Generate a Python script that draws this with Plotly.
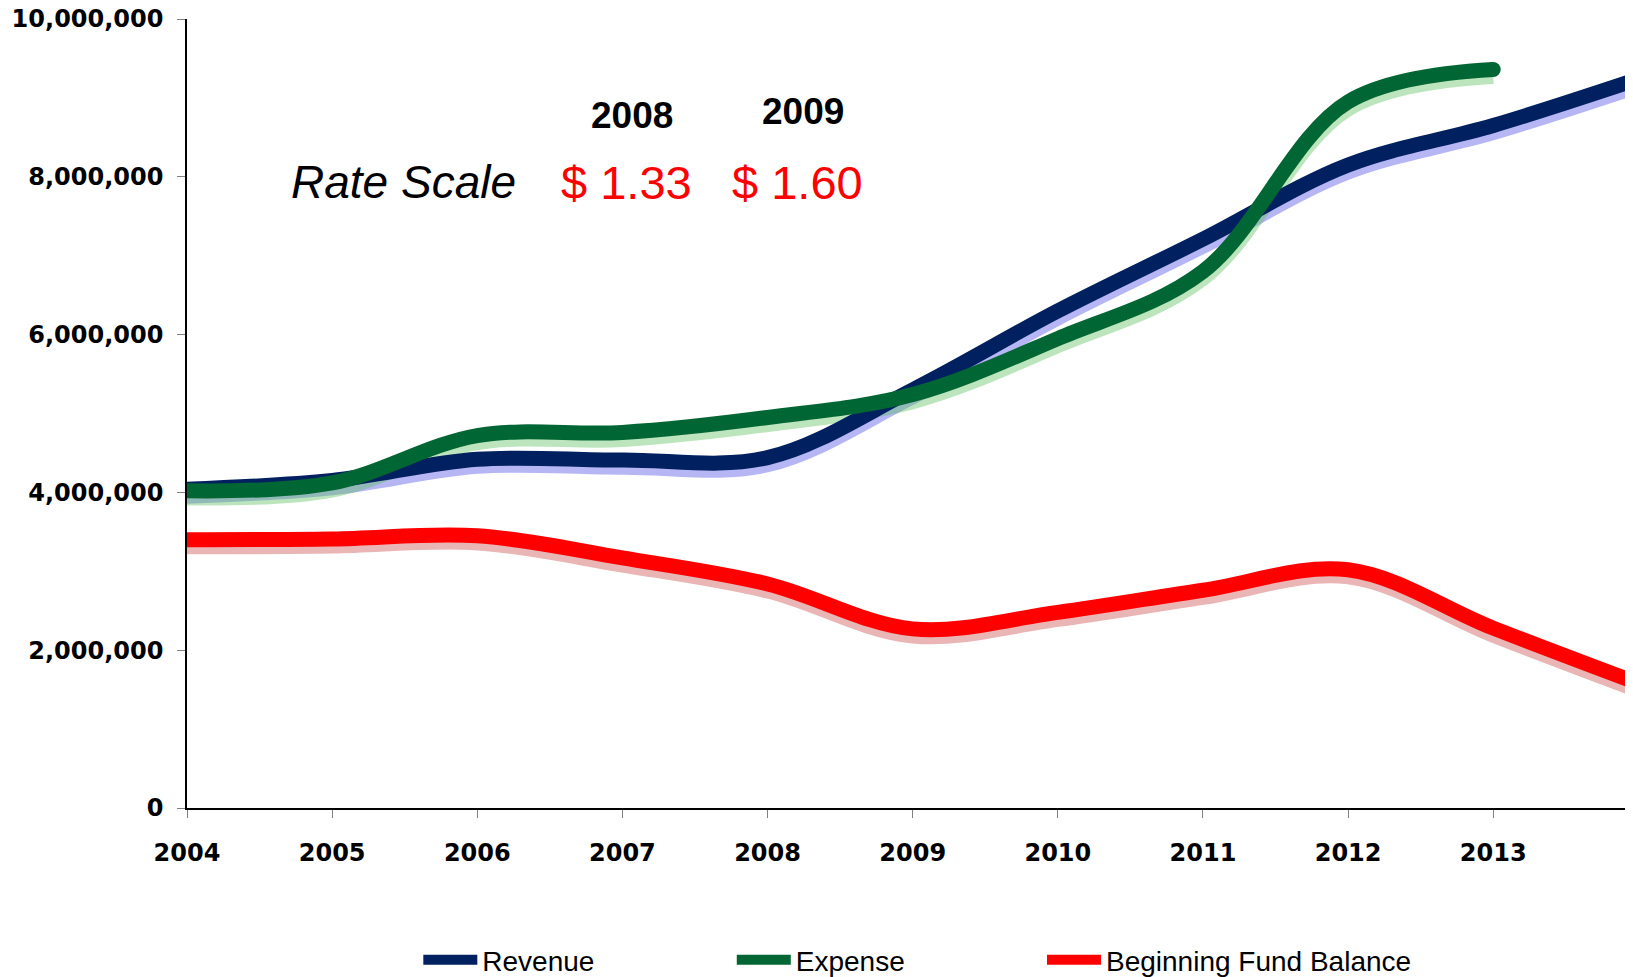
import plotly.graph_objects as go

# values
years = [2004, 2005, 2006, 2007, 2008, 2009, 2010, 2011, 2012, 2013, 2014]
revenue = [4.04e6, 4.15e6, 4.42e6, 4.41e6, 4.44e6, 5.30e6, 6.30e6, 7.21e6, 8.15e6, 8.65e6, 9.24e6]
expense = [4.02e6, 4.12e6, 4.72e6, 4.76e6, 4.95e6, 5.24e6, 5.95e6, 6.80e6, 8.95e6, 9.36e6]
fund_balance = [3.40e6, 3.41e6, 3.45e6, 3.17e6, 2.84e6, 2.27e6, 2.48e6, 2.76e6, 3.02e6, 2.28e6, 1.58e6]

y_ticks = [0, 2e6, 4e6, 6e6, 8e6, 10e6]
x_ticks = list(range(2004, 2014))

rate_years = ["2008", "2009"]
rate_values = ["$ 1.33", "$ 1.60"]

series = [
    ("Revenue", revenue, "#002060", "rgba(110, 110, 235, 0.5)", "legend"),
    ("Expense", expense, "#006633", "rgba(90, 190, 90, 0.4)", "legend2"),
    ("Beginning Fund Balance", fund_balance, "#FF0000", "rgba(200, 70, 70, 0.4)", "legend3"),
]

SHADOW_DROP = 90_000  # soft drop shadow under each line

fig = go.Figure()

# shadows first so every line sits above them
for name, vals, color, shadow, lg in series:
    fig.add_trace(go.Scatter(
        x=years[:len(vals)],
        y=[v - SHADOW_DROP for v in vals],
        mode="lines",
        line=dict(color=shadow, width=15, shape="spline", smoothing=1.0),
        showlegend=False,
        hoverinfo="skip",
    ))

for name, vals, color, shadow, lg in series:
    fig.add_trace(go.Scatter(
        x=years[:len(vals)],
        y=vals,
        mode="lines",
        name=name,
        legend=lg,
        line=dict(color=color, width=15, shape="spline", smoothing=1.0),
    ))

# rounded end of the expense line
fig.add_trace(go.Scatter(
    x=[years[len(expense) - 1]],
    y=[expense[-1]],
    mode="markers",
    marker=dict(color="#006633", size=15),
    showlegend=False,
    hoverinfo="skip",
))

label_font = dict(family="DejaVu Sans", size=24, color="#000000", weight="bold")
legend_font = dict(family="Liberation Sans", size=28, color="#000000")


def legend_at(x):
    return dict(
        orientation="h",
        xref="container", yref="container",
        x=x, xanchor="left",
        y=0.0175, yanchor="middle",
        font=legend_font,
        itemwidth=54,
        bgcolor="rgba(0,0,0,0)",
    )


# page body keeps an 8px margin, so the figure is 8px smaller than the window
fig.update_layout(
    width=1625,
    height=969,
    margin=dict(l=179, r=0, t=11, b=169, autoexpand=False),
    paper_bgcolor="white",
    plot_bgcolor="white",
    showlegend=True,
    legend=legend_at(0.2525),
    legend2=legend_at(0.4454),
    legend3=legend_at(0.6363),
    xaxis=dict(
        range=[2004, 2013.963],
        tickmode="array",
        tickvals=x_ticks,
        ticktext=[str(y) for y in x_ticks],
        ticks="outside",
        ticklen=8,
        tickcolor="#808080",
        showline=True,
        linecolor="#000000",
        linewidth=1.5,
        showgrid=False,
        zeroline=False,
        automargin=False,
        tickfont=label_font,
        ticklabelstandoff=14,
        ticklabeloverflow="allow",
    ),
    yaxis=dict(
        range=[0, 10e6],
        tickmode="array",
        tickvals=y_ticks,
        tickformat=",d",
        ticks="outside",
        ticklen=8,
        tickcolor="#808080",
        showline=True,
        linecolor="#000000",
        linewidth=1.5,
        showgrid=False,
        zeroline=False,
        automargin=False,
        tickfont=label_font,
        ticklabelstandoff=9,
        ticklabeloverflow="allow",
    ),
)

fig.add_annotation(
    text="<i>Rate Scale</i>", xref="paper", yref="paper",
    x=0.150, y=0.793, xanchor="center", yanchor="middle", showarrow=False,
    font=dict(family="Liberation Sans", size=46, color="#000000"),
)
for i, (yr, val) in enumerate(zip(rate_years, rate_values)):
    fig.add_annotation(
        text=f"<b>{yr}</b>", xref="paper", yref="paper",
        x=[0.3077, 0.426][i], y=[0.878, 0.883][i],
        xanchor="center", yanchor="middle", showarrow=False,
        font=dict(family="Liberation Sans", size=37, color="#000000"),
    )
    fig.add_annotation(
        text=val, xref="paper", yref="paper",
        x=[0.304, 0.4225][i], y=0.793,
        xanchor="center", yanchor="middle", showarrow=False,
        font=dict(family="Liberation Sans", size=47, color="#FF0000"),
    )

fig.write_html("out.html")
